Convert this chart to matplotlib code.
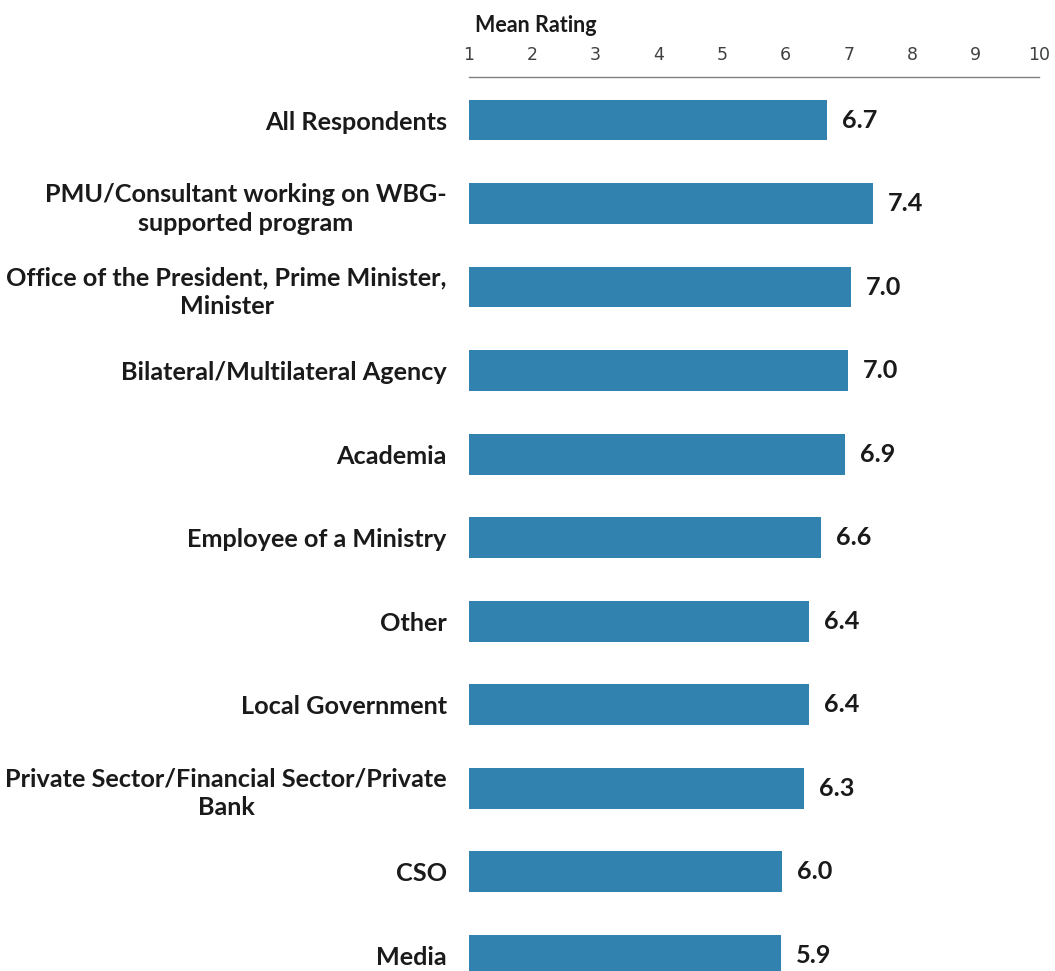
import matplotlib
matplotlib.use("Agg")
import matplotlib.pyplot as plt

categories = [
    "All Respondents",
    "PMU/Consultant working on WBG-\nsupported program",
    "Office of the President, Prime Minister,\nMinister",
    "Bilateral/Multilateral Agency",
    "Academia",
    "Employee of a Ministry",
    "Other",
    "Local Government",
    "Private Sector/Financial Sector/Private\nBank",
    "CSO",
    "Media",
]
mean_rating = [6.66, 7.38, 7.03, 6.99, 6.94, 6.56, 6.37, 6.37, 6.29, 5.94, 5.93]
value_labels = ["6.7", "7.4", "7.0", "7.0", "6.9", "6.6", "6.4", "6.4", "6.3", "6.0", "5.9"]
x_ticks = [1, 2, 3, 4, 5, 6, 7, 8, 9, 10]
axis_title = "Mean Rating"

W, H = 1055, 971
fig = plt.figure(figsize=(W / 100, H / 100), dpi=100)
left_px, right_px, top_px = 469, 1039, 77
ax = fig.add_axes([left_px / W, 0, (right_px - left_px) / W, 1 - top_px / H])

bar_color = "#3282AF"
ypos = list(range(len(categories)))
ax.barh(ypos, mean_rating, height=0.49, color=bar_color)

ax.set_xlim(1, 10)
ax.set_ylim(10.19, -0.515)
ax.xaxis.tick_top()
ax.set_xticks(x_ticks)
ax.set_xticklabels([str(t) for t in x_ticks], fontsize=12.5, color="#404040",
                   family="DejaVu Sans")
ax.tick_params(axis="x", length=0, pad=9.5)
ax.set_yticks(ypos)
ax.set_yticklabels(categories, fontsize=18.2, fontweight="bold", family="Lato",
                   color="#1a1a1a", multialignment="center", linespacing=1.32)
ax.tick_params(axis="y", length=0, pad=16)

for s in ["right", "bottom", "left"]:
    ax.spines[s].set_visible(False)
ax.spines["top"].set_color("#808080")
ax.spines["top"].set_linewidth(1.0)

for y, v, lab in zip(ypos, mean_rating, value_labels):
    ax.annotate(lab, xy=(v, y), xytext=(15, 0), textcoords="offset pixels",
                ha="left", va="center", fontsize=18.2, fontweight="bold",
                family="Lato", color="#1a1a1a")

fig.text(475 / W, 1 - 25 / H, axis_title, ha="left", va="center",
         fontsize=15.5, fontweight="bold", family="Lato", color="#1a1a1a")

fig.savefig("out.png", dpi=100)
